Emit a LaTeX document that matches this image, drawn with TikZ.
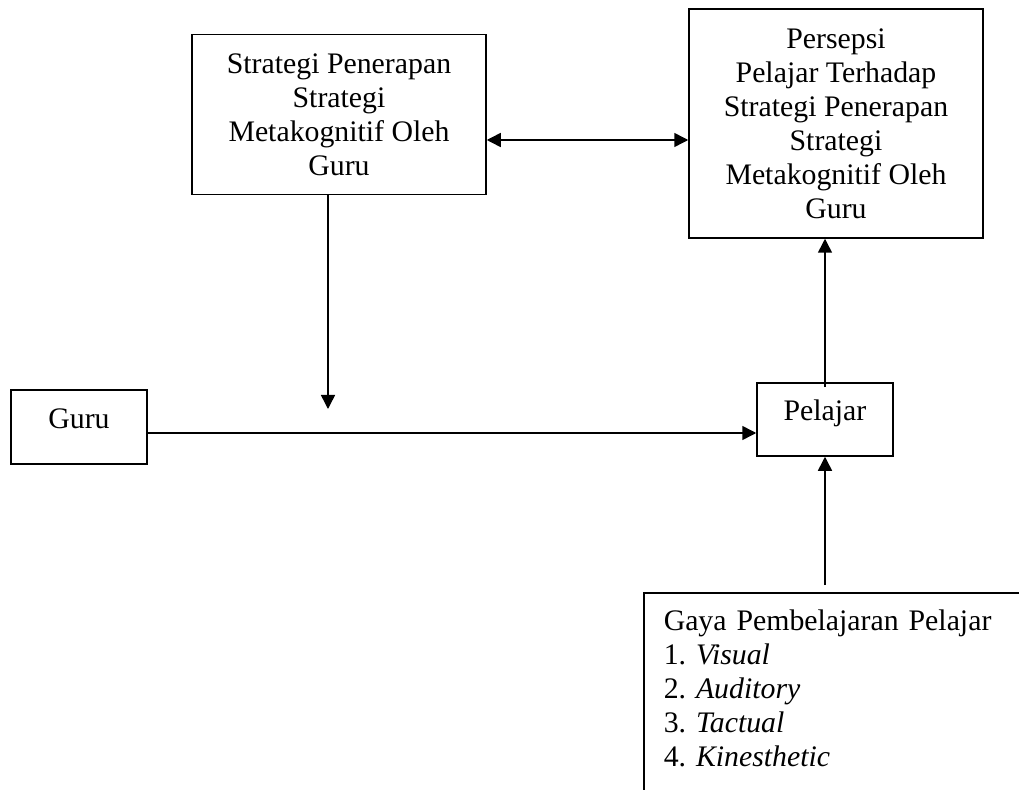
\documentclass[tikz,border=0pt]{standalone}
\usepackage{fontspec}
\setmainfont{Liberation Serif}
\usepackage{tikz}
\usetikzlibrary{arrows.meta, positioning, calc}
\frenchspacing

\tikzset{
  box/.style={draw, line width=0.75pt, align=center, inner sep=0pt},
  link/.style={line width=0.75pt, -{Triangle[length=7pt, width=7pt]}},
  dlink/.style={line width=0.75pt, {Triangle[length=7pt, width=7pt]}-{Triangle[length=7pt, width=7pt]}}
}

\begin{document}
\begin{tikzpicture}[x=0.5pt, y=0.5pt, font=\fontsize{14.9}{17}\selectfont]
  \useasboundingbox (0,0) rectangle (1019,789);
  \clip (0,0) rectangle (1019,789);

  % Upper boxes
  \node[box, minimum width=147pt, minimum height=80pt] (strat) at (339, 674.5) {
    Strategi Penerapan\\
    Strategi\\
    Metakognitif Oleh\\
    Guru
  };
  \node[box, minimum width=147pt, minimum height=114.5pt] (pers) at (836, 665.5) {
    Persepsi\\
    Pelajar Terhadap\\
    Strategi Penerapan\\
    Strategi\\
    Metakognitif Oleh\\
    Guru
  };

  % Middle row
  \node[box, minimum width=68pt, text height=19.5pt, text depth=17.5pt] (guru) at (79, 362) {Guru};
  \node[box, minimum width=68pt, text height=19pt, text depth=17.5pt] (pel) at (825, 369.5) {Pelajar};

  % Learning styles (runs off the page)
  \node[draw, line width=0.75pt, anchor=north west, align=left, text width=200pt,
        inner xsep=10pt, inner ysep=0pt, text height=19pt, text depth=100pt] (gaya) at (643, 197) {
    Gaya Pembelajaran Pelajar\\
    1. \textit{Visual}\\
    2. \textit{Auditory}\\
    3. \textit{Tactual}\\
    4. \textit{Kinesthetic}
  };

  \coordinate (meet) at (328, 380);

  % Connectors
  \draw[dlink] (strat.east |- 0,649) -- (pers.west |- 0,649);
  \draw[link] (strat.south -| meet) -- (meet);
  \draw[link] (guru.east |- 0,356) -- (pel.west |- 0,356);
  \draw[link] ([yshift=-2.5pt]pel.north) -- (pel.north |- pers.south);
  \draw[link] ($(pel.south |- gaya.north)+(0,7)$) -- (pel.south);
\end{tikzpicture}
\end{document}
